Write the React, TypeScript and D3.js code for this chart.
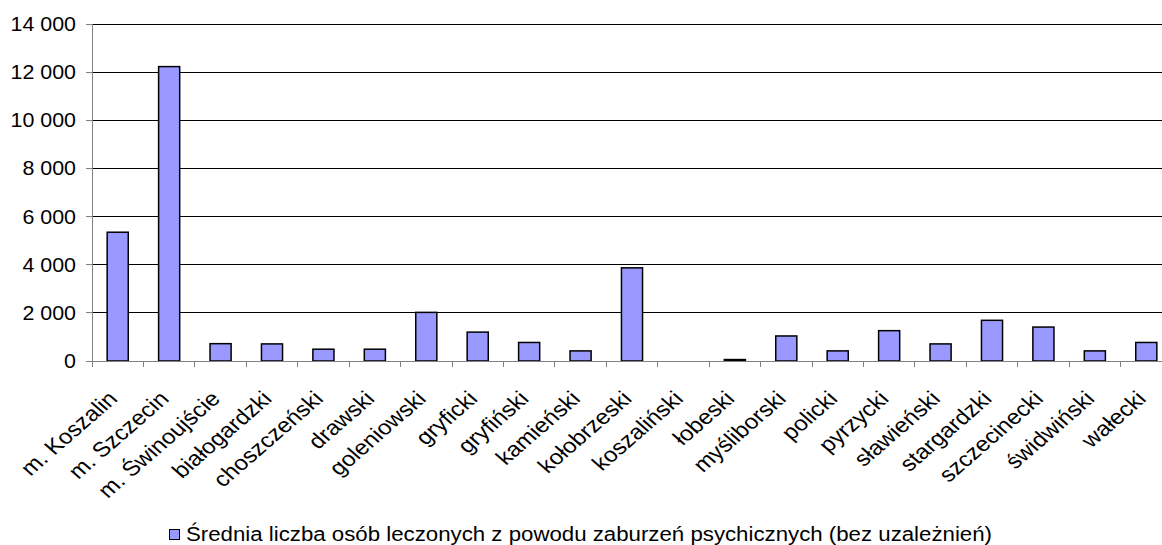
import React from "react";
import * as d3 from "d3";

const categories = [
  "m. Koszalin", "m. Szczecin", "m. Świnoujście", "białogardzki", "choszczeński",
  "drawski", "goleniowski", "gryficki", "gryfiński", "kamieński", "kołobrzeski",
  "koszaliński", "łobeski", "myśliborski", "policki", "pyrzycki", "sławieński",
  "stargardzki", "szczecinecki", "świdwiński", "wałecki",
];
const values = [
  5350, 12230, 720, 710, 490, 490, 2020, 1200, 770, 420, 3870,
  0, 60, 1040, 420, 1260, 710, 1690, 1410, 420, 770,
];
const yTicks = [0, 2000, 4000, 6000, 8000, 10000, 12000, 14000];
const seriesName = "Średnia liczba osób leczonych z powodu zaburzeń psychicznych (bez uzależnień)";

const W = 1162, H = 545;
const left = 92, right = 1172, top = 24, bottom = 361;
const FONT = "Arial, 'Liberation Sans', sans-serif";

export default function App() {
  const x = d3.scaleBand<string>().domain(categories).range([left, right]).paddingInner(0).paddingOuter(0);
  const y = d3.scaleLinear().domain([0, 14000]).range([bottom, top]);
  const bw = x.bandwidth() * 0.41;
  const fmt = (v: number) => d3.format(",")(v).replace(/,/g, " ");
  return (
    <svg width={W} height={H} style={{ position: "absolute", left: 0, top: 0, background: "#fff" }} fontFamily={FONT}>
      {yTicks.filter(t => t > 0).map(t => (
        <line key={"g" + t} x1={left} x2={right} y1={y(t)} y2={y(t)} stroke="#000" strokeWidth={1} shapeRendering="crispEdges" />
      ))}
      {yTicks.map(t => (
        <g key={"t" + t}>
          <line x1={left - 6} x2={left} y1={y(t)} y2={y(t)} stroke="#808080" shapeRendering="crispEdges" />
          <text transform={`translate(76,${y(t)}) scale(1.07,1)`} dy="0.35em" textAnchor="end" fontSize={20} fill="#000">{fmt(t)}</text>
        </g>
      ))}
      {categories.map((c, i) => (
        <line key={"ct" + i} x1={x(c)!} x2={x(c)!} y1={bottom} y2={bottom + 6} stroke="#808080" shapeRendering="crispEdges" />
      ))}
      {categories.map((c, i) => {
        const v = values[i];
        if (v <= 0) return null;
        const cx = x(c)! + x.bandwidth() / 2;
        return (
          <rect key={"b" + i} x={cx - bw / 2} y={y(v)} width={bw} height={bottom - y(v)}
            fill="#9999FF" stroke="#000" strokeWidth={1.5} />
        );
      })}
      <line x1={left} x2={left} y1={top} y2={bottom} stroke="#808080" shapeRendering="crispEdges" />
      <line x1={left} x2={right} y1={bottom} y2={bottom} stroke="#808080" shapeRendering="crispEdges" />
      {categories.map((c, i) => {
        const cx = x(c)! + x.bandwidth() / 2;
        return (
          <text key={"l" + i} transform={`translate(${cx + 1},400) scale(1.15,1) rotate(-45)`} textAnchor="end"
            fontSize={21} fill="#000">{c}</text>
        );
      })}
      <rect x={169.5} y={529.5} width={10} height={10} fill="#9999FF" stroke="#000" strokeWidth={1} />
      <text x={186} y={541} fontSize={20} textLength={806} lengthAdjust="spacingAndGlyphs" fill="#000">{seriesName}</text>
    </svg>
  );
}
